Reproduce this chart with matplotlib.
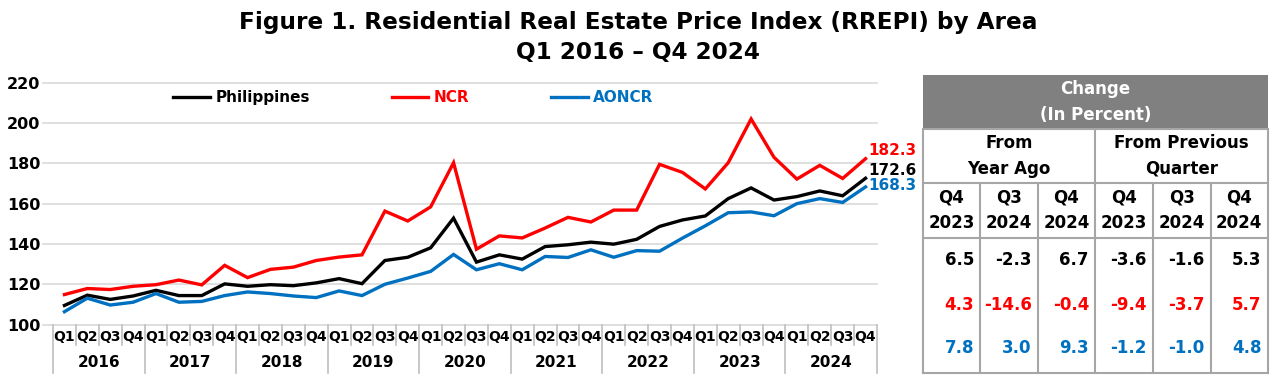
import numpy as np
import matplotlib
matplotlib.use("Agg")
import matplotlib.pyplot as plt
import matplotlib.transforms as mtransforms
from matplotlib.patches import Rectangle

plt.rcParams['font.family'] = ['DejaVu Sans']
plt.rcParams['font.weight'] = 'bold'

# ---- data ----
quarters = ['Q1', 'Q2', 'Q3', 'Q4']
years = ['2016', '2017', '2018', '2019', '2020', '2021', '2022', '2023', '2024']

philippines = [109.5, 114.6, 112.5, 114.2, 117.0, 114.4, 114.4, 120.2, 119.0, 119.8, 119.3, 120.7,
               122.8, 120.3, 131.8, 133.4, 138.1, 152.8, 131.0, 134.6, 132.5, 138.7, 139.6, 140.9,
               139.9, 142.3, 148.7, 151.9, 153.9, 162.5, 167.8, 161.8, 163.5, 166.3, 163.9, 172.6]
ncr = [114.9, 117.9, 117.4, 119.0, 119.8, 122.1, 119.7, 129.4, 123.3, 127.4, 128.5, 131.8,
       133.5, 134.6, 156.3, 151.4, 158.4, 180.3, 137.4, 144.0, 143.0, 147.9, 153.2, 150.9,
       156.8, 156.8, 179.5, 175.5, 167.3, 180.3, 202.0, 183.0, 172.2, 179.0, 172.5, 182.3]
aoncr = [106.4, 113.1, 109.7, 111.1, 115.4, 111.1, 111.5, 114.4, 116.2, 115.4, 114.2, 113.4,
         116.7, 114.4, 120.0, 123.1, 126.4, 134.8, 127.2, 130.2, 127.2, 133.8, 133.3, 137.1,
         133.4, 136.7, 136.4, 142.9, 149.0, 155.5, 155.9, 154.0, 160.0, 162.5, 160.6, 168.3]

series_names = ['Philippines', 'NCR', 'AONCR']
series_colors = ['#000000', '#FF0000', '#0070C0']

tbl_group = ['From\nYear Ago', 'From Previous\nQuarter']
tbl_q = ['Q4', 'Q3', 'Q4', 'Q4', 'Q3', 'Q4']
tbl_y = ['2023', '2024', '2024', '2023', '2024', '2024']
ph_change = [6.5, -2.3, 6.7, -3.6, -1.6, 5.3]
ncr_change = [4.3, -14.6, -0.4, -9.4, -3.7, 5.7]
aoncr_change = [7.8, 3.0, 9.3, -1.2, -1.0, 4.8]

W, H = 1280, 388
fig = plt.figure(figsize=(W / 100, H / 100), dpi=100)

# ---- line chart ----
ax = fig.add_axes([53 / W, (H - 324.6) / H, 824 / W, 241.9 / H])
x = np.arange(len(philippines))
all_series = [philippines, ncr, aoncr]
lines = []
for vals, name, c in zip(all_series, series_names, series_colors):
    ln, = ax.plot(x, vals, color=c, lw=2.4, label=name, solid_joinstyle='miter')
    lines.append(ln)

ax.set_xlim(-0.5, len(x) - 0.5)
ax.set_ylim(100, 220)
ax.set_yticks(range(100, 221, 20))
for v in range(100, 221, 20):
    # gridlines reach a little left of the plot, as in the original
    ax.plot([-0.95, len(x) - 0.5], [v, v], color='#d9d9d9', lw=1.2, clip_on=False, zorder=0)
for s in ax.spines.values():
    s.set_visible(False)
ax.tick_params(axis='y', length=0, pad=9, labelsize=11.5)
ax.set_xticks([])

# category axis (quarters / years)
trans = mtransforms.blended_transform_factory(ax.transData, ax.transAxes)
for i in range(len(x)):
    ax.text(i, -0.052, quarters[i % 4], transform=trans, ha='center', va='center',
            fontsize=10, fontweight='bold')
for k, yr in enumerate(years):
    ax.text(4 * k + 1.5, -0.158, yr, transform=trans, ha='center', va='center',
            fontsize=11, fontweight='bold')
for i in range(len(x) + 1):
    low = -0.2 if i % 4 == 0 else -0.086
    ax.plot([i - 0.5, i - 0.5], [0, low], transform=trans, color='#bfbfbf', lw=1.2, clip_on=False)

# end labels
offsets = [8, 8, 1]
for vals, c, dy in zip(all_series, series_colors, offsets):
    ax.annotate(f'{vals[-1]:.1f}', (x[-1], vals[-1]), xytext=(3, dy), textcoords='offset pixels',
                ha='left', va='center', color=c, fontsize=11, fontweight='bold',
                annotation_clip=False)

leg = ax.legend(handles=lines, labels=series_names, loc='center left', bbox_to_anchor=(0.146, 0.937),
                ncol=3, frameon=False, handlelength=2.4, handletextpad=0.35, columnspacing=5.35,
                borderpad=0, borderaxespad=0, prop={'weight': 'bold', 'size': 11})
for t, c in zip(leg.get_texts(), series_colors):
    t.set_color(c)

# ---- title ----
fig.text(638 / W, 1 - 22 / H, 'Figure 1. Residential Real Estate Price Index (RREPI) by Area',
         ha='center', va='center', fontsize=16.7, fontweight='bold')
fig.text(638 / W, 1 - 52 / H, 'Q1 2016 \u2013 Q4 2024', ha='center', va='center',
         fontsize=16.7, fontweight='bold')

# ---- change table ----
tax = fig.add_axes([0, 0, 1, 1])
tax.set_xlim(0, W)
tax.set_ylim(H, 0)
tax.axis('off')

cols = [922.7, 980, 1037.7, 1095, 1152.7, 1210.7, 1267.7]
r_top, r_grp, r_per, r_dat, r_bot = 75, 129, 183, 238, 373
bc = '#a6a6a6'

tax.add_patch(Rectangle((cols[0], r_top), cols[-1] - cols[0], r_grp - r_top, color='#808080', lw=0))
tax.text((cols[0] + cols[-1]) / 2, (r_top + r_grp) / 2, 'Change\n(In Percent)', ha='center',
         va='center', color='white', fontsize=12, fontweight='bold', linespacing=1.55)

for yy in [r_grp, r_per, r_dat, r_bot]:
    tax.plot([cols[0], cols[-1]], [yy, yy], color=bc, lw=1.5)
tax.plot([cols[0], cols[0]], [r_grp, r_bot], color=bc, lw=1.5)
tax.plot([cols[-1], cols[-1]], [r_grp, r_bot], color=bc, lw=1.5)
tax.plot([cols[3], cols[3]], [r_grp, r_bot], color=bc, lw=1.5)
for cx in cols[1:3] + cols[4:6]:
    tax.plot([cx, cx], [r_per, r_bot], color=bc, lw=1.5)

for g, lab in enumerate(tbl_group):
    tax.text((cols[3 * g] + cols[3 * g + 3]) / 2, (r_grp + r_per) / 2, lab, ha='center', va='center',
             fontsize=12, fontweight='bold', linespacing=1.55)

for j in range(6):
    cx = (cols[j] + cols[j + 1]) / 2
    tax.text(cx, (r_per + r_dat) / 2, f'{tbl_q[j]}\n{tbl_y[j]}', ha='center', va='center',
             fontsize=12, fontweight='bold', linespacing=1.55)
    for vals, c, yy in zip([ph_change, ncr_change, aoncr_change], series_colors, [260, 305, 348]):
        tax.text(cols[j + 1] - 6, yy, f'{vals[j]:.1f}', ha='right', va='center', color=c,
                 fontsize=12, fontweight='bold')

fig.savefig('out.png', dpi=100)
